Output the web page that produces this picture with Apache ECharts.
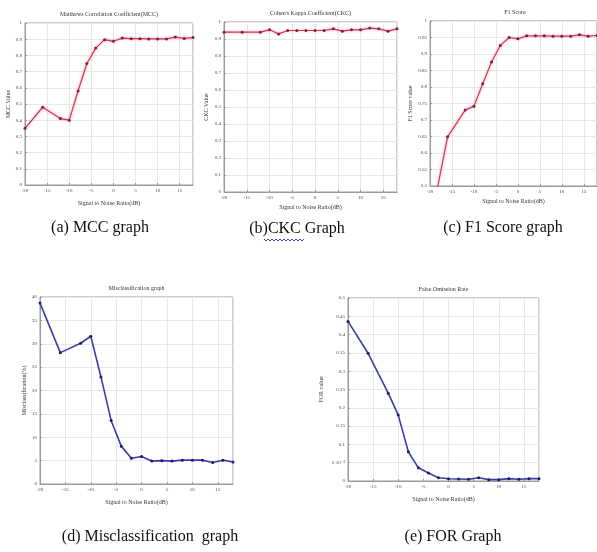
<!DOCTYPE html>
<html>
<head>
<meta charset="utf-8">
<script src="https://cdn.jsdelivr.net/npm/echarts@6/dist/echarts.min.js"></script>
<style>
  html, body { margin: 0; padding: 0; background: #fff; }
  #main { width: 597px; height: 552px; }
</style>
</head>
<body>
<div id="main"></div>
<script>
// SNR points (dB), same for all five graphs
var snr = [-20, -16, -12, -10, -8, -6, -4, -2, 0, 2, 4, 6, 8, 10, 12, 14, 16, 18];

var mccValues = [0.35, 0.48, 0.41, 0.40, 0.58, 0.75, 0.845, 0.897, 0.887, 0.907, 0.903, 0.903, 0.902, 0.902, 0.902, 0.913, 0.905, 0.91];
var ckcValues = [0.94, 0.94, 0.94, 0.954, 0.93, 0.95, 0.95, 0.95, 0.95, 0.95, 0.96, 0.946, 0.954, 0.954, 0.964, 0.96, 0.946, 0.96];
var f1Values = [0.38, 0.649, 0.73, 0.742, 0.81, 0.876, 0.926, 0.95, 0.946, 0.955, 0.955, 0.955, 0.954, 0.954, 0.954, 0.958, 0.954, 0.956];
var misValues = [38.7, 28.1, 30.1, 31.6, 22.9, 13.6, 8.1, 5.5, 5.9, 4.9, 5.0, 4.9, 5.1, 5.1, 5.1, 4.6, 5.1, 4.7];
var forValues = [0.436, 0.349, 0.24, 0.18, 0.08, 0.036, 0.022, 0.009, 0.006, 0.0055, 0.0046, 0.009, 0.0037, 0.0037, 0.0064, 0.0046, 0.0064, 0.0064];

var titles = ['Matthews Correlation Coefficient(MCC)', "Cohen's Kappa Coefficient(CKC)", 'F1 Score', 'Misclassification graph', 'False Omission Rate'];
var yNames = ['MCC Value', 'CKC Value', 'F1 Score value', 'Misclassification(%)', 'FOR value'];
var captions = ['(a) MCC graph', '(b)CKC Graph', '(c) F1 Score graph', '(d) Misclassification  graph', '(e) FOR Graph'];

function pairs(ys) {
    return snr.map(function (x, i) { return [x, ys[i]]; });
}

var serif = '"Liberation Serif", "DejaVu Serif", serif';

// plot boxes, in pixels
var boxes = [
    { left: 25, top: 23, width: 168, height: 162 },
    { left: 224, top: 22, width: 173, height: 170 },
    { left: 430, top: 21, width: 170, height: 165 },
    { left: 40, top: 297, width: 193, height: 187 },
    { left: 348, top: 298, width: 191, height: 183 }
];
var yRanges = [[0, 1, 0.1], [0, 1, 0.1], [0.5, 1, 0.05], [0, 40, 5], [0, 0.5, 0.05]];
var yGaps = [13, 15, 17, 13, 24];
var xGaps = [15, 12, 12, 15, 15];
var allData = [mccValues, ckcValues, f1Values, misValues, forValues];

var grids = [], xAxes = [], yAxes = [], series = [], graphic = [];

boxes.forEach(function (b, i) {
    grids.push({
        left: b.left, top: b.top, width: b.width, height: b.height,
        show: true, borderColor: '#9a9a9a', borderWidth: 1, backgroundColor: '#fff'
    });
    xAxes.push({
        gridIndex: i, type: 'value', min: -20, max: 18, interval: 5,
        name: 'Signal to Noise Ratio(dB)', nameLocation: 'middle', nameGap: xGaps[i],
        nameTextStyle: { fontSize: 6, fontFamily: serif, color: '#333' },
        axisLine: { show: true, onZero: false, lineStyle: { color: '#9a9a9a', width: 1 } },
        axisTick: { show: true, inside: true, length: 2, lineStyle: { color: '#9a9a9a' } },
        axisLabel: { fontSize: 5, fontFamily: serif, color: '#444', margin: 3, showMaxLabel: false },
        splitLine: { show: true, lineStyle: { color: '#e8e8e8', width: 1 } }
    });
    var r = yRanges[i];
    yAxes.push({
        gridIndex: i, type: 'value', min: r[0], max: r[1], interval: r[2],
        name: yNames[i], nameLocation: 'middle', nameGap: yGaps[i], nameRotate: 90,
        nameTextStyle: { fontSize: 6, fontFamily: serif, color: '#333' },
        axisLine: { show: true, onZero: false, lineStyle: { color: '#9a9a9a', width: 1 } },
        axisTick: { show: true, inside: true, length: 2, lineStyle: { color: '#9a9a9a' } },
        axisLabel: {
            fontSize: 5, fontFamily: serif, color: '#444', margin: 3,
            formatter: function (v) {
                if (i === 4 && Math.abs(v - 0.05) < 1e-9) return '5·10⁻²';
                return String(Math.round(v * 1000) / 1000);
            }
        },
        splitLine: { show: true, lineStyle: { color: '#e8e8e8', width: 1 } }
    });
    var top = i < 3;
    series.push({
        type: 'line', xAxisIndex: i, yAxisIndex: i,
        data: pairs(allData[i]),
        symbol: 'circle', symbolSize: 3, showSymbol: true, clip: true,
        lineStyle: top
            ? { color: '#d8344e', width: 1.2, shadowColor: 'rgba(255,120,170,0.8)', shadowBlur: 3 }
            : { color: '#3b3bb0', width: 1.6 },
        itemStyle: { color: top ? '#7c2435' : '#1e1e5e', borderWidth: 0 },
        animation: false
    });
    graphic.push({
        type: 'text', x: b.left + b.width / 2, y: b.top - 9,
        style: { text: titles[i], font: '6px ' + serif, fill: '#333', align: 'center', verticalAlign: 'middle' }
    });
});

// captions under each graph
var capPos = [[100, 228], [297, 229], [503, 228], [150, 537], [453, 537]];
captions.forEach(function (c, i) {
    graphic.push({
        type: 'text', x: capPos[i][0], y: capPos[i][1],
        style: { text: c, font: '16px ' + serif, fill: '#111', align: 'center', verticalAlign: 'middle' }
    });
});
// spell-check squiggle under "CKC"
graphic.push({
    type: 'polyline',
    shape: { points: [[264, 239], [266, 241], [268, 239], [270, 241], [272, 239], [274, 241], [276, 239], [278, 241], [280, 239], [282, 241], [284, 239], [286, 241], [288, 239], [290, 241], [292, 239], [294, 241], [296, 239], [298, 241], [300, 239], [302, 241], [304, 239]] },
    style: { stroke: '#3344dd', lineWidth: 1, fill: null }
});

var chart = echarts.init(document.getElementById('main'), null, { renderer: 'canvas' });
chart.setOption({
    backgroundColor: '#fff',
    animation: false,
    grid: grids,
    xAxis: xAxes,
    yAxis: yAxes,
    series: series,
    graphic: graphic
});
</script>
</body>
</html>
